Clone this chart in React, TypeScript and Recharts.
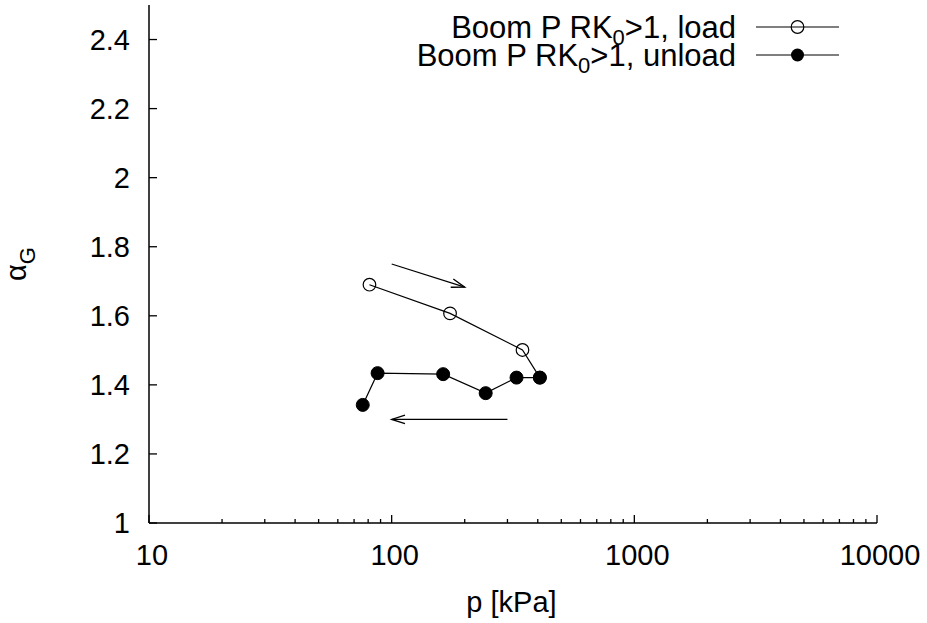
import React from 'react';
import { ComposedChart, Line, XAxis, YAxis, ReferenceLine, Label } from 'recharts';

const loadP = [81, 174, 346, 408];
const loadAlpha = [1.69, 1.607, 1.501, 1.421];
const unloadP = [408, 327, 244, 163, 87.5, 76];
const unloadAlpha = [1.421, 1.421, 1.376, 1.431, 1.434, 1.342];

const xMajorTicks = [10, 100, 1000, 10000];
const xMinorTicks = [20, 30, 40, 50, 60, 70, 80, 90, 200, 300, 400, 500, 600, 700, 800, 900, 2000, 3000, 4000, 5000, 6000, 7000, 8000, 9000];
const yTicks = [1, 1.2, 1.4, 1.6, 1.8, 2, 2.2, 2.4];
const yTickLabels = ['1', '1.2', '1.4', '1.6', '1.8', '2', '2.2', '2.4'];

const arrowFromP = [100, 300];
const arrowFromAlpha = [1.75, 1.3];
const arrowToP = [200, 100];
const arrowToAlpha = [1.683, 1.3];

const seriesLabels = [
  { pre: 'Boom P RK', sub: '0', post: '>1, load' },
  { pre: 'Boom P RK', sub: '0', post: '>1, unload' },
];

const loadData = loadP.map((p, i) => ({ p, a: loadAlpha[i] }));
const unloadData = unloadP.map((p, i) => ({ p, a: unloadAlpha[i] }));
const allXTicks = [...xMajorTicks, ...xMinorTicks].sort((a, b) => a - b);

const FONT = '"Liberation Sans", Arial, Helvetica, sans-serif';
const FS = 29;
const LFS = 31;
const W = 927;
const H = 623;

const BottomTick = (props: any) => {
  const { x, y, payload } = props;
  const v = payload.value;
  const major = xMajorTicks.includes(v);
  return (
    <g>
      <line x1={x} x2={x} y1={y} y2={y - (major ? 8 : 4)} stroke="#000" strokeWidth={1.3} />
      {major && (
        <text x={x + 3} y={y + 42} textAnchor="middle" fontSize={FS} fontFamily={FONT} fill="#000">
          {String(v)}
        </text>
      )}
    </g>
  );
};

const TopTick = (props: any) => {
  const { x, y, payload } = props;
  const major = xMajorTicks.includes(payload.value);
  return <line x1={x} x2={x} y1={y} y2={y + (major ? 8 : 4)} stroke="#000" strokeWidth={1.3} />;
};

const LeftTick = (props: any) => {
  const { x, y, payload } = props;
  const idx = yTicks.indexOf(payload.value);
  return (
    <g>
      <line x1={x} x2={x + 8} y1={y} y2={y} stroke="#000" strokeWidth={1.3} />
      <text x={x - 19} y={y + 10.4} textAnchor="end" fontSize={FS} fontFamily={FONT} fill="#000">
        {idx >= 0 ? yTickLabels[idx] : String(payload.value)}
      </text>
    </g>
  );
};

const RightTick = (props: any) => {
  const { x, y } = props;
  return <line x1={x} x2={x - 8} y1={y} y2={y} stroke="#000" strokeWidth={1.3} />;
};

const ArrowShape = (props: any) => {
  const { x1, y1, x2, y2 } = props;
  if ([x1, y1, x2, y2].some((v) => typeof v !== 'number' || isNaN(v))) return null;
  const ang = Math.atan2(y2 - y1, x2 - x1);
  const len = 14;
  const half = (18 * Math.PI) / 180;
  const ax1 = x2 - len * Math.cos(ang - half);
  const ay1 = y2 - len * Math.sin(ang - half);
  const ax2 = x2 - len * Math.cos(ang + half);
  const ay2 = y2 - len * Math.sin(ang + half);
  return (
    <g>
      <line x1={x1} y1={y1} x2={x2} y2={y2} stroke="#000" strokeWidth={1.3} />
      <polyline points={`${ax1},${ay1} ${x2},${y2} ${ax2},${ay2}`} fill="none" stroke="#000" strokeWidth={1.3} />
    </g>
  );
};

const LegendLabel = ({ item, y }: { item: { pre: string; sub: string; post: string }; y: number }) => (
  <text x={736} y={y + 10.6} textAnchor="end" fontSize={LFS} fontFamily={FONT} fill="#000">
    <tspan>{item.pre}</tspan>
    <tspan dy={7} fontSize={22}>{item.sub}</tspan>
    <tspan dy={-7}>{item.post}</tspan>
  </text>
);

export default function App() {
  return (
    <div style={{ position: 'absolute', left: 0, top: 0, width: W, height: H, background: '#fff' }}>
      <ComposedChart width={W} height={H} margin={{ top: 5, right: 50, left: 0, bottom: 0 }}>
        <XAxis
          xAxisId={0}
          dataKey="p"
          type="number"
          scale="log"
          domain={[10, 10000]}
          allowDataOverflow
          ticks={allXTicks}
          interval={0}
          tickSize={0}
          tickMargin={0}
          tickLine={false}
          tick={(p: any) => <BottomTick {...p} />}
          height={100}
          axisLine={{ stroke: '#000', strokeWidth: 1.5 }}
        >
          <Label value="p [kPa]" position="insideBottom" offset={11} dx={-1.5} fontSize={FS} fontFamily={FONT} fill="#000" />
        </XAxis>
        <XAxis
          xAxisId="top"
          orientation="top"
          type="number"
          scale="log"
          domain={[10, 10000]}
          allowDataOverflow
          ticks={allXTicks}
          interval={0}
          tickSize={0}
          tickMargin={0}
          tickLine={false}
          tick={(p: any) => <TopTick {...p} />}
          height={0}
          axisLine={{ stroke: '#000', strokeWidth: 1.5 }}
        />
        <YAxis
          yAxisId={0}
          type="number"
          domain={[1, 2.5]}
          allowDataOverflow
          ticks={yTicks}
          interval={0}
          tickSize={0}
          tickMargin={0}
          tickLine={false}
          tick={(p: any) => <LeftTick {...p} />}
          width={149}
          axisLine={{ stroke: '#000', strokeWidth: 1.5 }}
        />
        <YAxis
          yAxisId="right"
          orientation="right"
          type="number"
          domain={[1, 2.5]}
          allowDataOverflow
          ticks={yTicks}
          interval={0}
          tickSize={0}
          tickMargin={0}
          tickLine={false}
          tick={(p: any) => <RightTick {...p} />}
          width={0}
          axisLine={{ stroke: '#000', strokeWidth: 1.5 }}
        />
        {arrowFromP.map((p, i) => (
          <ReferenceLine
            key={`arrow-${i}`}
            xAxisId={0}
            yAxisId={0}
            segment={[
              { x: p, y: arrowFromAlpha[i] },
              { x: arrowToP[i], y: arrowToAlpha[i] },
            ]}
            stroke="#000"
            shape={(sp: any) => <ArrowShape {...sp} />}
          />
        ))}
        <Line
          xAxisId={0}
          yAxisId={0}
          data={loadData}
          dataKey="a"
          type="linear"
          stroke="#000"
          strokeWidth={1.2}
          dot={{ r: 6.3, fill: 'none', stroke: '#000', strokeWidth: 1.2 }}
          activeDot={false}
          isAnimationActive={false}
        />
        <Line
          xAxisId={0}
          yAxisId={0}
          data={unloadData}
          dataKey="a"
          type="linear"
          stroke="#000"
          strokeWidth={1.2}
          dot={{ r: 6.5, fill: '#000', stroke: '#000', strokeWidth: 1 }}
          activeDot={false}
          isAnimationActive={false}
        />
      </ComposedChart>
      <svg width={W} height={H} style={{ position: 'absolute', left: 0, top: 0, pointerEvents: 'none' }}>
        <LegendLabel item={seriesLabels[0]} y={27} />
        <line x1={756} x2={839} y1={27} y2={27} stroke="#000" strokeWidth={1.2} />
        <circle cx={797.5} cy={27} r={6.3} fill="none" stroke="#000" strokeWidth={1.2} />
        <LegendLabel item={seriesLabels[1]} y={55} />
        <line x1={756} x2={839} y1={55} y2={55} stroke="#000" strokeWidth={1.2} />
        <circle cx={797.5} cy={55} r={6.5} fill="#000" />
        <text transform="rotate(-90, 26, 264)" x={26} y={264} textAnchor="middle" fontSize={FS} fontFamily={FONT} fill="#000">
          <tspan>α</tspan>
          <tspan dy={9} fontSize={22}>G</tspan>
        </text>
      </svg>
    </div>
  );
}
